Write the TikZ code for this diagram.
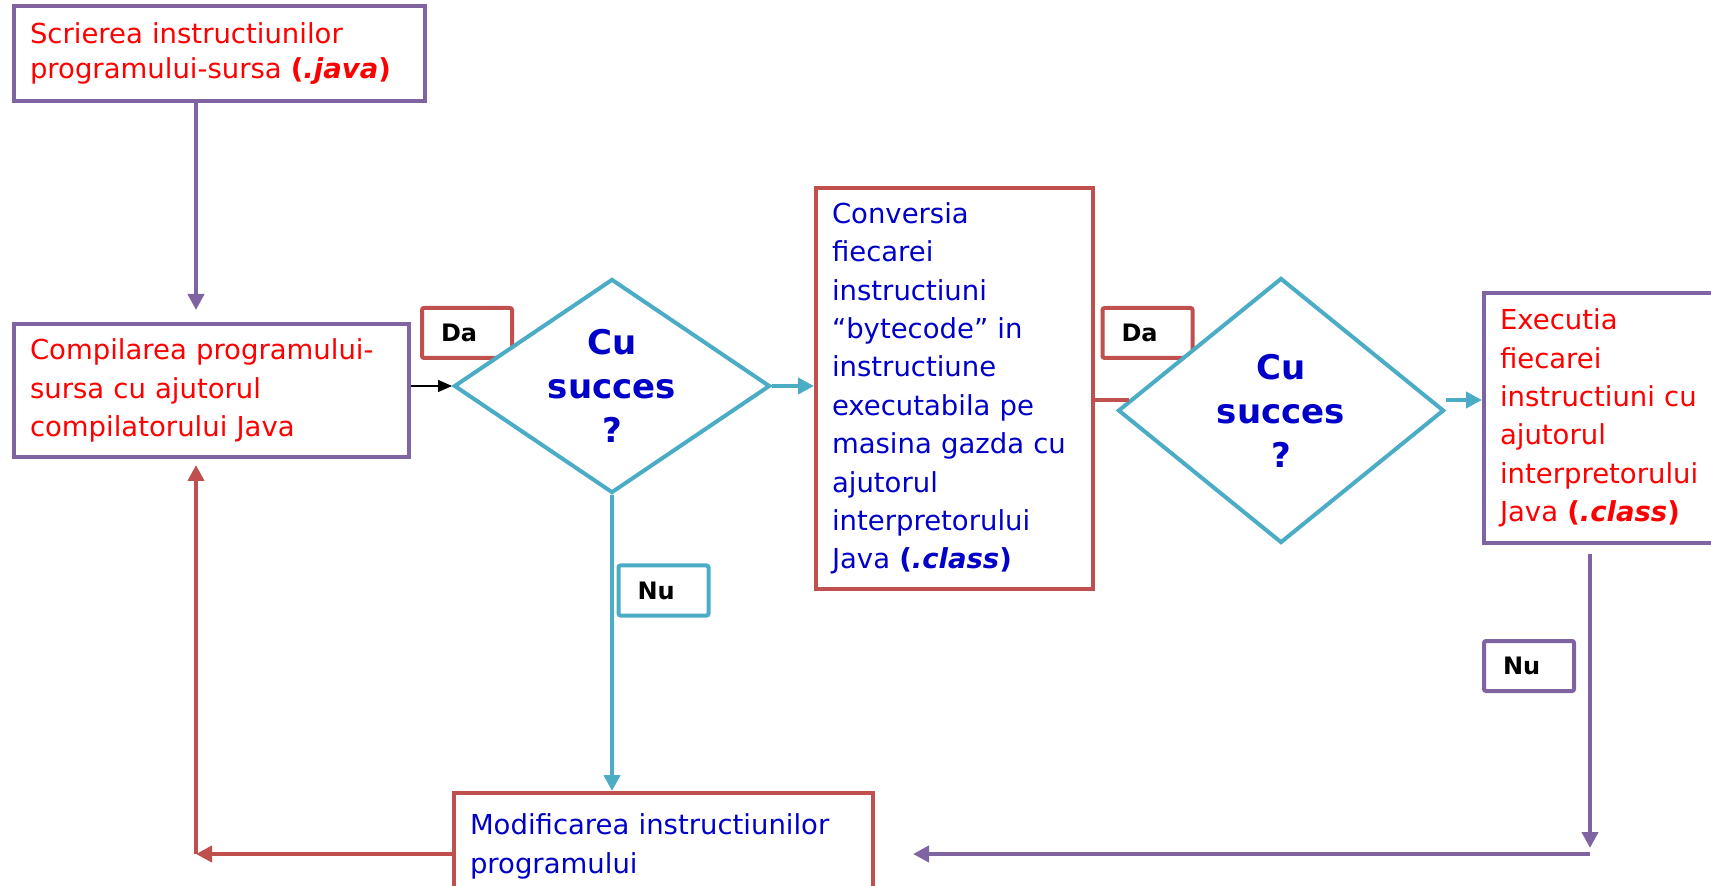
\documentclass[tikz,border=0pt]{standalone}
\usepackage{fontspec}
\setmainfont{DejaVu Sans}
\usetikzlibrary{shapes.geometric,arrows.meta}
\definecolor{purp}{HTML}{8064A2}
\definecolor{rdline}{HTML}{C0504D}
\definecolor{cyanline}{HTML}{4BACC6}
\definecolor{txtred}{HTML}{FF0000}
\definecolor{txtblue}{HTML}{0000C8}

\begin{document}
\begin{tikzpicture}[x=0.5pt, y=-0.5pt,
  box/.style={draw, fill=white, line width=2pt, align=left, inner xsep=8pt, inner ysep=0pt, font=\fontsize{13.75}{19.2}\selectfont},
  decision/.style={diamond, draw=cyanline, fill=white, line width=2pt, inner sep=0pt, aspect=1.5, align=center, text=txtblue, font=\fontsize{17}{22}\selectfont\bfseries},
  tag/.style={draw, fill=white, line width=2pt, rounded corners=1pt, inner xsep=9.5pt, text width=26pt, minimum height=25pt, align=left, font=\fontsize{12}{14}\selectfont\bfseries},
  flow/.style={line width=2.2pt, -{Triangle[length=8pt,width=8pt]}}
]
\useasboundingbox (0,0) rectangle (1711,886);
\clip (0,0) rectangle (1711,886);

% lanes for the return paths
\coordinate (lane) at (196,854);
\coordinate (rc) at (1590,854);
\coordinate (ry) at (0,400);

% boxes
\node[box, draw=purp, text=txtred, text width=189.5pt, minimum height=47.5pt, font=\fontsize{13.75}{17.5}\selectfont] (b1) at (219.5,53.5)
  {Scrierea instructiunilor\\programului-sursa \textbf{(\textit{.java})}};
\node[box, draw=purp, text=txtred, text width=181.5pt, minimum height=66.5pt] (b2) at (211.5,390.5)
  {Compilarea programului-\\sursa cu ajutorul\\compilatorului Java};
\node[box, draw=rdline, text=txtblue, text width=122.5pt, minimum height=200.5pt] (b3) at (954.5,388.5)
  {Conversia\\fiecarei\\instructiuni\\“bytecode” in\\instructiune\\executabila pe\\masina gazda cu\\ajutorul\\interpretorului\\Java \textbf{(\textit{.class})}};
\node[box, draw=purp, text=txtred, text width=102pt, minimum height=125pt] (b4) at (1602,418)
  {Executia\\fiecarei\\instructiuni cu\\ajutorul\\interpretorului\\Java \textbf{(\textit{.class})}};
\node[box, draw=rdline, text=txtblue, text width=193.5pt, minimum height=53.5pt] (b5) at (663.5,846.5)
  {Modificarea instructiunilor\\programului};

% Da / Nu tags
\node[tag, draw=rdline] (da1) at (467,333) {Da};
\node[tag, draw=rdline] (da2) at (1147.5,333) {Da};
\node[tag, draw=cyanline] (nu1) at (663.5,590.5) {Nu};
\node[tag, draw=purp] (nu2) at (1529,666) {Nu};

% decisions
\node[decision, minimum width=158pt, minimum height=107pt] (d1) at (612,386) {Cu\\succes\\?};
\node[decision, minimum width=163pt, minimum height=132.5pt] (d2) at (1281,410.5) {Cu\\succes\\?};

% connectors
\draw[flow, purp, shorten >=6pt] (b1.south -| lane) -- (b2.north -| lane);
\draw[line width=0.7pt, -{Triangle[length=7pt,width=6pt]}] (b2.east |- d1.west) -- (d1.west);
\draw[flow, cyanline] (d1.east) -- (d1.east -| b3.west);
\draw[flow, cyanline] (d1.south) -- (d1.south |- b5.north);
\draw[line width=2.2pt, rdline] (b3.east |- d2.176) -- (d2.176);
\draw[flow, cyanline] (d2.east |- ry) -- (b4.west |- ry);
\draw[flow, purp, shorten <=4.5pt, shorten >=3pt] (b4.south -| rc) -- (rc);
\draw[flow, purp, shorten >=19pt] (rc) -- (b5.east |- rc);
\draw[flow, rdline] (b5.west |- lane) -- (lane);
\draw[flow, rdline, shorten >=3pt] (lane) -- (b2.south -| lane);
\end{tikzpicture}
\end{document}
